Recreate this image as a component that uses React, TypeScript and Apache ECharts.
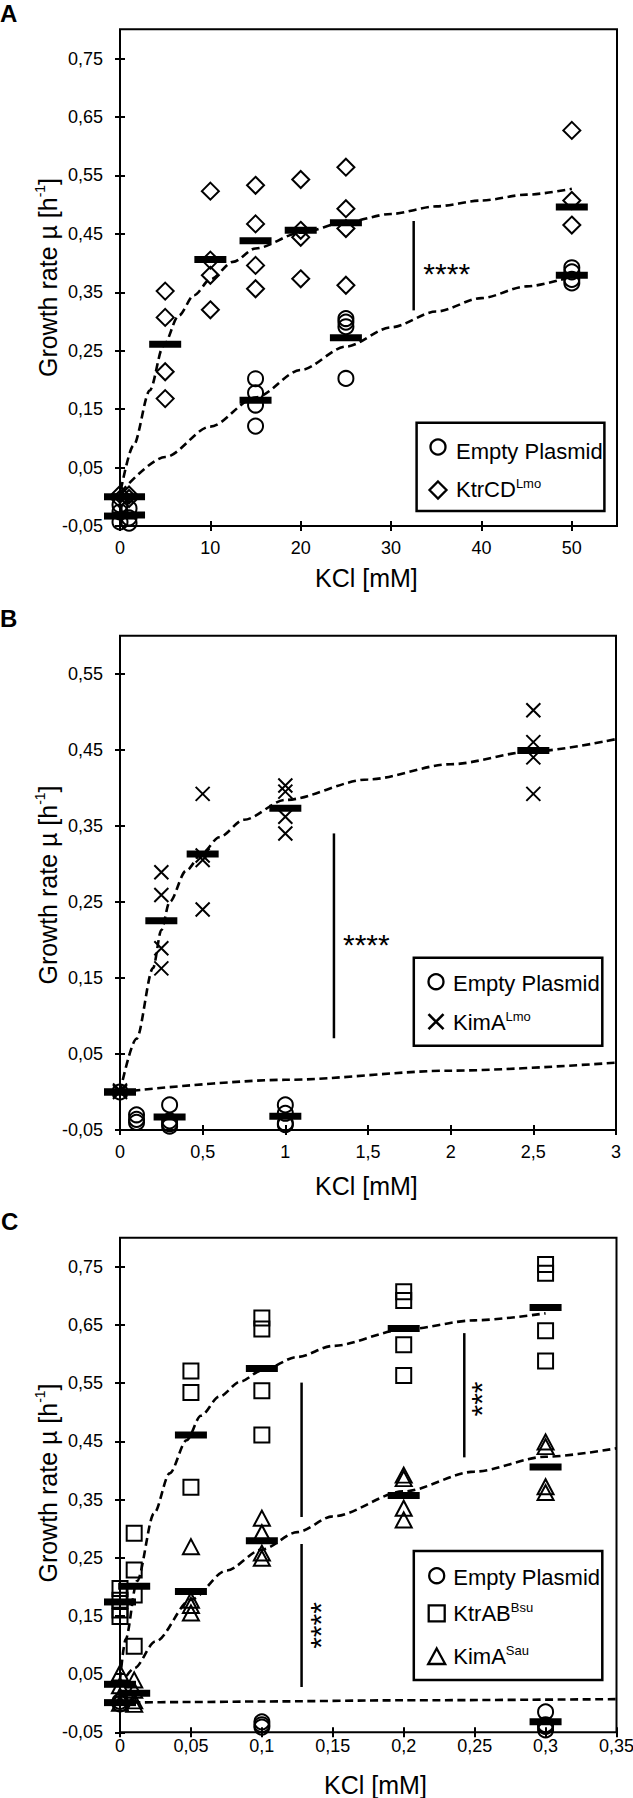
import React, { useEffect, useRef } from "react";
import * as echarts from "echarts";

const FONT = "'Liberation Sans', Arial, Helvetica, sans-serif";

// ---------------- Panel A ----------------
const aXTicks = [0, 10, 20, 30, 40, 50];
const aYTicks = [-0.05, 0.05, 0.15, 0.25, 0.35, 0.45, 0.55, 0.65, 0.75];
const aEmpty = [
  [0, -0.014], [0, -0.026], [0, -0.043], [1, -0.02], [1, -0.036], [1, -0.045],
  [15, 0.202], [15, 0.178], [15, 0.157], [15, 0.121],
  [25, 0.305], [25, 0.299], [25, 0.291], [25, 0.2025],
  [50, 0.392], [50, 0.385], [50, 0.372], [50, 0.366],
];
const aKtr = [
  [0, 0.004], [0, -0.004], [1, 0.003], [1, -0.003],
  [5, 0.352], [5, 0.307], [5, 0.214], [5, 0.168],
  [10, 0.523], [10, 0.405], [10, 0.379], [10, 0.32],
  [15, 0.533], [15, 0.467], [15, 0.396], [15, 0.356],
  [20, 0.543], [20, 0.456], [20, 0.444], [20, 0.373],
  [25, 0.564], [25, 0.493], [25, 0.459], [25, 0.362],
  [50, 0.627], [50, 0.507], [50, 0.465],
];
const aEmptyMeans = [[0, -0.033], [1, -0.031], [15, 0.165], [25, 0.272], [50, 0.379]];
const aKtrMeans = [[0, 0.0], [1, 0.0], [5, 0.261], [10, 0.406], [15, 0.438], [20, 0.456], [25, 0.469], [50, 0.496]];
const aKtrFit = [
  [0.1, 0.012], [1.5, 0.088], [3.3, 0.182], [4.8, 0.258], [6.5, 0.31], [8.2, 0.345], [10, 0.372],
  [12.5, 0.402], [15, 0.425], [20, 0.452], [25, 0.47], [30, 0.484], [35, 0.497], [40, 0.507],
  [45, 0.517], [50, 0.527],
];
const aEmptyFit = [
  [0.1, 0.008], [5, 0.068], [10, 0.12], [15, 0.17], [20, 0.217], [25, 0.257], [30, 0.29],
  [35, 0.317], [40, 0.34], [45, 0.36], [50, 0.377],
];
const aSig = [[32.5, 0.472], [32.5, 0.319]];

// ---------------- Panel B ----------------
const bXTicks = [0, 0.5, 1, 1.5, 2, 2.5, 3];
const bYTicks = [-0.05, 0.05, 0.15, 0.25, 0.35, 0.45, 0.55];
const bEmpty = [
  [0, 0.0],
  [0.1, -0.03], [0.1, -0.036], [0.1, -0.04],
  [0.3, -0.017], [0.3, -0.038], [0.3, -0.042], [0.3, -0.045],
  [1, -0.017], [1, -0.028], [1, -0.041], [1, -0.043],
];
const bKim = [
  [0, 0.0], [0, 0.002],
  [0.25, 0.289], [0.25, 0.259], [0.25, 0.189], [0.25, 0.1625],
  [0.5, 0.392], [0.5, 0.311], [0.5, 0.305], [0.5, 0.24],
  [1, 0.403], [1, 0.395], [1, 0.362], [1, 0.34],
  [2.5, 0.502], [2.5, 0.46], [2.5, 0.44], [2.5, 0.392],
];
const bEmptyMeans = [[0, 0.0], [0.3, -0.033], [1, -0.032]];
const bKimMeans = [[0, 0.0], [0.25, 0.225], [0.5, 0.313], [1, 0.373], [2.5, 0.449]];
const bKimFit = [
  [0, 0.0], [0.1, 0.07], [0.2, 0.163], [0.25, 0.213], [0.3, 0.25], [0.4, 0.291], [0.5, 0.315],
  [0.6, 0.335], [0.75, 0.358], [1, 0.384], [1.5, 0.411], [2, 0.431], [2.5, 0.448], [3, 0.464],
];
const bEmptyFit = [[0, 0.0], [1, 0.016], [2, 0.028], [3, 0.0385]];
const bSig = [[1.294, 0.34], [1.294, 0.0706]];

// ---------------- Panel C ----------------
const cXTicks = [0, 0.05, 0.1, 0.15, 0.2, 0.25, 0.3, 0.35];
const cYTicks = [-0.05, 0.05, 0.15, 0.25, 0.35, 0.45, 0.55, 0.65, 0.75];
const cEmpty = [
  [0, 0.003], [0, -0.001],
  [0.1, -0.032], [0.1, -0.037], [0.1, -0.041],
  [0.3, -0.015], [0.3, -0.037], [0.3, -0.04], [0.3, -0.046],
];
const cKtr = [
  [0, 0.197], [0, 0.177], [0, 0.16], [0, 0.149],
  [0.01, 0.292], [0.01, 0.229], [0.01, 0.186], [0.01, 0.098],
  [0.05, 0.571], [0.05, 0.534], [0.05, 0.371],
  [0.1, 0.662], [0.1, 0.643], [0.1, 0.537], [0.1, 0.461],
  [0.2, 0.707], [0.2, 0.692], [0.2, 0.616], [0.2, 0.563],
  [0.3, 0.754], [0.3, 0.739], [0.3, 0.64], [0.3, 0.588],
];
const cKim = [
  [0, 0.052], [0, 0.03], [0, 0.012], [0, 0.0],
  [0.01, 0.04], [0.01, 0.022], [0.01, 0.004], [0.01, -0.002],
  [0.05, 0.269], [0.05, 0.177], [0.05, 0.168], [0.05, 0.155],
  [0.1, 0.318], [0.1, 0.293], [0.1, 0.258], [0.1, 0.249],
  [0.2, 0.392], [0.2, 0.386], [0.2, 0.335], [0.2, 0.315],
  [0.3, 0.449], [0.3, 0.441], [0.3, 0.372], [0.3, 0.362],
];
const cEmptyMeans = [[0, 0.001], [0.3, -0.032]];
const cKtrMeans = [[0, 0.174], [0.01, 0.201], [0.05, 0.461], [0.1, 0.575], [0.2, 0.644], [0.3, 0.68]];
const cKimMeans = [[0, 0.0325], [0.01, 0.017], [0.05, 0.192], [0.1, 0.279], [0.2, 0.357], [0.3, 0.406]];
const cKtrFit = [
  [0, 0.04], [0.004, 0.11], [0.012, 0.21], [0.024, 0.326], [0.035, 0.395], [0.047, 0.452],
  [0.057, 0.494], [0.07, 0.527], [0.085, 0.553], [0.1, 0.572], [0.125, 0.595],
  [0.15, 0.614], [0.2, 0.642], [0.25, 0.658], [0.3, 0.67],
];
const cKimFit = [
  [0, 0.028], [0.01, 0.06], [0.025, 0.106], [0.05, 0.178], [0.075, 0.228], [0.1, 0.264],
  [0.125, 0.294], [0.15, 0.321], [0.2, 0.364], [0.25, 0.398], [0.3, 0.4235], [0.35, 0.438],
];
const cEmptyFit = [[0, 0.001], [0.05, 0.002], [0.1, 0.003], [0.2, 0.005], [0.35, 0.007]];
const cSig4Upper = [[0.128, 0.551], [0.128, 0.32]];
const cSig4Lower = [[0.128, 0.2735], [0.128, 0.028]];
const cSig3 = [[0.2427, 0.636], [0.2427, 0.4225]];

// ---------------- helpers ----------------
const comma = (v: number) => String(v).replace(".", ",");
const comma2 = (v: number) => v.toFixed(2).replace(".", ",");

const X_PATH = "path://M0,0L10,10M10,0L0,10";

function xAxis(gi: number, max: number, ticks: number[], margin: number) {
  return {
    type: "value", gridIndex: gi, min: 0, max, position: "bottom", offset: -5,
    axisLine: { show: false, onZero: false },
    axisTick: { show: true, inside: false, length: 10, customValues: ticks, lineStyle: { color: "#000", width: 2 } },
    axisLabel: { customValues: ticks, margin, fontSize: 18, fontFamily: FONT, color: "#000", formatter: (v: number) => comma(v) },
    splitLine: { show: false },
  };
}
function yAxis(gi: number, max: number, ticks: number[]) {
  return {
    type: "value", gridIndex: gi, min: -0.05, max, position: "left", offset: -5,
    axisLine: { show: false, onZero: false },
    axisTick: { show: true, inside: false, length: 10, customValues: ticks, lineStyle: { color: "#000", width: 2 } },
    axisLabel: { customValues: ticks, margin: 22, fontSize: 18, fontFamily: FONT, color: "#000", formatter: (v: number) => comma2(v) },
    splitLine: { show: false },
  };
}
function pts(name: string, data: number[][], i: number, symbol: string, size: any) {
  return {
    type: "scatter", name, xAxisIndex: i, yAxisIndex: i, data, symbol, symbolSize: size, silent: true, z: 2,
    itemStyle: { color: "rgba(0,0,0,0)", borderColor: "#000", borderWidth: 2, opacity: 1 },
  };
}
function means(name: string, data: number[][], i: number) {
  return {
    type: "scatter", name, xAxisIndex: i, yAxisIndex: i, data, symbol: "rect", symbolSize: [32, 7], silent: true, z: 4,
    itemStyle: { color: "#000", opacity: 1 },
  };
}
function fit(name: string, data: number[][], i: number) {
  return {
    type: "line", name, xAxisIndex: i, yAxisIndex: i, data, symbol: "none", showSymbol: false, silent: true, z: 3,
    smooth: 0.3, smoothMonotone: "x",
    lineStyle: { color: "#000", width: 2.6, type: [8, 4.5], opacity: 1 },
  };
}
function sig(name: string, data: number[][], i: number) {
  return {
    type: "line", name, xAxisIndex: i, yAxisIndex: i, data, symbol: "none", showSymbol: false, silent: true, z: 3,
    lineStyle: { color: "#000", width: 2.5, opacity: 1 },
  };
}

function txt(x: number, y: number, text: string, size: number, opts: any = {}) {
  return {
    type: "text", x, y, rotation: opts.rotation || 0, silent: true,
    style: {
      text, fill: "#000", fontSize: size, fontFamily: FONT, fontWeight: opts.bold ? "bold" : "normal",
      textAlign: opts.align || "center", align: opts.align || "center",
      textVerticalAlign: "middle", verticalAlign: "middle",
      rich: opts.rich,
    },
  };
}
function supText(x: number, y: number, main: string, sup: string, size: number, supSize: number, lh: number, opts: any = {}) {
  const rich = {
    n: { fontSize: size, fontFamily: FONT, fill: "#000", lineHeight: lh },
    s: { fontSize: supSize, fontFamily: FONT, fill: "#000", lineHeight: supSize, verticalAlign: "top" },
  };
  const text = opts.tail ? `{n|${main}}{s|${sup}}{n|${opts.tail}}` : `{n|${main}}{s|${sup}}`;
  return txt(x, y, text, size, { ...opts, rich });
}
const stroke = { fill: "none", stroke: "#000", lineWidth: 2.3 };
const legBox = (x: number, y: number, w: number, h: number) => ({
  type: "rect", silent: true, shape: { x, y, width: w, height: h }, style: { fill: "#fff", stroke: "#000", lineWidth: 2.5 },
});
const legCircle = (cx: number, cy: number) => ({ type: "circle", silent: true, shape: { cx, cy, r: 7.5 }, style: stroke });
const legDiamond = (cx: number, cy: number) => ({
  type: "polygon", silent: true, shape: { points: [[cx, cy - 8.5], [cx + 8.5, cy], [cx, cy + 8.5], [cx - 8.5, cy]] }, style: stroke,
});
const legSquare = (cx: number, cy: number) => ({ type: "rect", silent: true, shape: { x: cx - 8, y: cy - 8, width: 16, height: 16 }, style: stroke });
const legTriangle = (cx: number, cy: number) => ({
  type: "polygon", silent: true, shape: { points: [[cx, cy - 8.5], [cx + 8.5, cy + 7], [cx - 8.5, cy + 7]] }, style: stroke,
});
const legX = (cx: number, cy: number) => ({
  type: "group", silent: true,
  children: [
    { type: "line", shape: { x1: cx - 7.5, y1: cy - 7.5, x2: cx + 7.5, y2: cy + 7.5 }, style: { stroke: "#000", lineWidth: 2.6 } },
    { type: "line", shape: { x1: cx + 7.5, y1: cy - 7.5, x2: cx - 7.5, y2: cy + 7.5 }, style: { stroke: "#000", lineWidth: 2.6 } },
  ],
});

const GRID_STYLE = { show: true, borderColor: "#000", borderWidth: 2, backgroundColor: "#fff", containLabel: false, outerBoundsMode: "none" };

export default function App() {
  const ref = useRef<HTMLDivElement>(null);
  useEffect(() => {
    if (!ref.current) return;
    const chart = echarts.init(ref.current, undefined, { renderer: "svg" });
    const yTitle = (x: number, y: number) =>
      supText(x, y, "Growth rate µ [h", "-1", 25, 14, 30, { rotation: Math.PI / 2, tail: "]" });
    const option: any = {
      animation: false,
      backgroundColor: "#fff",
      grid: [
        { ...GRID_STYLE, left: 120, top: 29.3, width: 497, height: 496.7 },
        { ...GRID_STYLE, left: 120, top: 635.7, width: 496, height: 494.3 },
        { ...GRID_STYLE, left: 120, top: 1237.7, width: 496.5, height: 494.6 },
      ],
      xAxis: [xAxis(0, 55, aXTicks, 18), xAxis(1, 3, bXTicks, 18), xAxis(2, 0.35, cXTicks, 10)],
      yAxis: [yAxis(0, 0.8, aYTicks), yAxis(1, 0.6, bYTicks), yAxis(2, 0.8, cYTicks)],
      series: [
        pts("Empty Plasmid", aEmpty, 0, "circle", 15),
        pts("KtrCD Lmo", aKtr, 0, "diamond", [17, 17]),
        fit("Empty Plasmid fit", aEmptyFit, 0),
        fit("KtrCD fit", aKtrFit, 0),
        means("Empty Plasmid mean", aEmptyMeans, 0),
        means("KtrCD mean", aKtrMeans, 0),
        sig("A significance", aSig, 0),

        pts("Empty Plasmid B", bEmpty, 1, "circle", 15),
        pts("KimA Lmo", bKim, 1, X_PATH, 14),
        fit("Empty Plasmid fit B", bEmptyFit, 1),
        fit("KimA Lmo fit", bKimFit, 1),
        means("Empty Plasmid mean B", bEmptyMeans, 1),
        means("KimA Lmo mean", bKimMeans, 1),
        sig("B significance", bSig, 1),

        pts("Empty Plasmid C", cEmpty, 2, "circle", 15),
        pts("KtrAB Bsu", cKtr, 2, "rect", [15, 15]),
        pts("KimA Sau", cKim, 2, "triangle", [16, 15]),
        fit("Empty Plasmid fit C", cEmptyFit, 2),
        fit("KtrAB fit", cKtrFit, 2),
        fit("KimA Sau fit", cKimFit, 2),
        means("Empty Plasmid mean C", cEmptyMeans, 2),
        means("KtrAB mean", cKtrMeans, 2),
        means("KimA Sau mean", cKimMeans, 2),
        sig("C significance 1a", cSig4Upper, 2),
        sig("C significance 1b", cSig4Lower, 2),
        sig("C significance 2", cSig3, 2),
      ],
      graphic: [
        txt(0, 13.3, "A", 24, { bold: true, align: "left" }),
        txt(0, 618, "B", 24, { bold: true, align: "left" }),
        txt(1, 1221.7, "C", 24, { bold: true, align: "left" }),
        txt(366.4, 578.3, "KCl [mM]", 25),
        txt(366.4, 1185.5, "KCl [mM]", 25),
        txt(375.5, 1785, "KCl [mM]", 25),
        yTitle(48.4, 277.5),
        yTitle(48.4, 885),
        yTitle(48.4, 1483),
        txt(446.7, 273.8, "****", 30),
        txt(366.3, 944.6, "****", 30),
        txt(320.4, 1625.5, "****", 30, { rotation: Math.PI / 2 }),
        txt(481.5, 1399, "***", 30, { rotation: Math.PI / 2 }),
        legBox(416.6, 422.7, 187.8, 88.3),
        legCircle(438, 447),
        legDiamond(438, 490),
        txt(456, 451.7, "Empty Plasmid", 22, { align: "left" }),
        supText(456, 489, "KtrCD", "Lmo", 22, 13, 24, { align: "left" }),
        legBox(413.8, 957.7, 188.5, 88),
        legCircle(436, 981.7),
        legX(436, 1021.7),
        txt(453, 983.5, "Empty Plasmid", 22, { align: "left" }),
        supText(453, 1022, "KimA", "Lmo", 22, 13, 24, { align: "left" }),
        legBox(413.8, 1551, 188.5, 129),
        legCircle(436.7, 1575.7),
        legSquare(436.7, 1613.3),
        legTriangle(436.7, 1657),
        txt(453.3, 1577, "Empty Plasmid", 22, { align: "left" }),
        supText(453.3, 1613.3, "KtrAB", "Bsu", 22, 13, 24, { align: "left" }),
        supText(453.3, 1656, "KimA", "Sau", 22, 13, 24, { align: "left" }),
      ],
    };
    chart.setOption(option);
    return () => chart.dispose();
  }, []);
  return (
    <div
      ref={ref}
      style={{ position: "absolute", left: 0, top: 0, width: 633, height: 1798, background: "#fff" }}
    />
  );
}
